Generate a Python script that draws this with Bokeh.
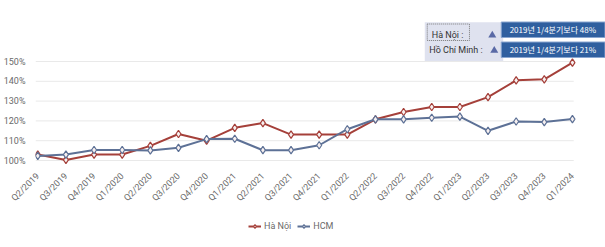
import math
from bokeh.plotting import figure
from bokeh.layouts import column
from bokeh.models import (Range1d, FixedTicker, Legend, LegendItem)
from bokeh.embed import file_html
from bokeh.resources import INLINE

quarters = ["Q2/2019", "Q3/2019", "Q4/2019", "Q1/2020", "Q2/2020", "Q3/2020", "Q4/2020",
            "Q1/2021", "Q2/2021", "Q3/2021", "Q4/2021", "Q1/2022", "Q2/2022", "Q3/2022",
            "Q4/2022", "Q1/2023", "Q2/2023", "Q3/2023", "Q4/2023", "Q1/2024"]
hanoi = [103.0, 100.3, 103.0, 103.0, 107.4, 113.4, 110.0, 116.5, 118.9, 113.1, 113.1, 113.1,
         120.8, 124.5, 127.0, 127.0, 132.0, 140.5, 141.0, 149.4]
hcm = [102.3, 103.0, 105.3, 105.3, 105.1, 106.4, 110.8, 111.0, 105.2, 105.2, 107.7, 115.8,
       120.8, 120.8, 121.6, 122.2, 115.0, 119.7, 119.4, 120.9]
y_ticks = [100, 110, 120, 130, 140, 150]
series_names = ["Hà Nội", "HCM"]
note_labels = ["Hà Nội :", "Hồ Chí Minh :"]
note_texts = ["2019년 1/4분기보다 48%", "2019년 1/4분기보다 21%"]

W, H = 605, 247
H_MAIN = 210
# frame in pixels
FL, FR, FT, FB = 31, 605, 0, 166
# pixel positions of first/last quarter and of 100% / 150%
PX_FIRST, PX_LAST = 33.3, 571.7
PY_100, PY_150 = 160.0, 61.0
sx = (PX_LAST - PX_FIRST) / (len(quarters) - 1)
sy = (PY_100 - PY_150) / 50.0
X0 = -(PX_FIRST - FL) / sx
X1 = (len(quarters) - 1) + (FR - PX_LAST) / sx
Y0 = 100 - (FB - PY_100) / sy
Y1 = 150 + (PY_150 - FT) / sy

def px(v):
    return X0 + (v - FL) / (FR - FL) * (X1 - X0)

def py(v):
    return Y1 - (v - FT) / (FB - FT) * (Y1 - Y0)

p = figure(width=W, height=H_MAIN, output_backend="svg", toolbar_location=None,
           x_range=Range1d(X0, X1), y_range=Range1d(Y0, Y1),
           min_border_left=FL, min_border_right=0, min_border_top=0,
           min_border_bottom=H_MAIN - FB)
p.outline_line_color = None
p.background_fill_color = "white"
p.border_fill_color = "white"

xs = list(range(len(quarters)))
p.xaxis.ticker = FixedTicker(ticks=xs)
p.xaxis.major_label_overrides = {i: q for i, q in enumerate(quarters)}
p.xaxis.major_label_orientation = math.pi / 4
p.yaxis.ticker = FixedTicker(ticks=y_ticks)
p.yaxis.major_label_overrides = {t: f"{t}%" for t in y_ticks}
for ax in (p.xaxis, p.yaxis):
    ax.axis_line_color = None
    ax.major_tick_line_color = None
    ax.minor_tick_line_color = None
    ax.major_label_text_font = "Roboto"
    ax.major_label_text_font_size = "9px"
    ax.major_label_text_color = "#6a6a6a"
p.xaxis.major_label_standoff = 2
p.yaxis.major_label_standoff = 4
p.xgrid.grid_line_color = None
p.ygrid.grid_line_color = None

# horizontal gridlines, limited to the plotted span
p.segment(x0=[px(31)] * len(y_ticks), x1=[px(573)] * len(y_ticks), y0=y_ticks, y1=y_ticks,
          line_color="#e9e9e9", line_width=1)

colors = ["#a5403a", "#5d7196"]
line_kw = dict(line_width=2)
mark_kw = dict(marker="diamond", size=7.5, fill_color="#f7f0f0", line_width=1.2)
for vals, c in zip([hanoi, hcm], colors):
    p.line(xs, vals, line_color=c, **line_kw)
    p.scatter(xs, vals, line_color=c, **mark_kw)

# note overlay (drawn as glyphs inside the frame)
p.quad(left=[px(423)], right=[px(502)], top=[py(21.7)], bottom=[py(60.5)],
       fill_color="#dfe2ef", line_color=None)
p.quad(left=[px(425.5)], right=[px(468)], top=[py(23.5)], bottom=[py(40)],
       fill_alpha=0, line_color="#777777", line_dash="1 1", line_width=1)
box_tops = [21.5, 41.5]
p.quad(left=[px(500)] * 2, right=[px(604.5)] * 2, top=[py(t) for t in box_tops],
       bottom=[py(t + 15.5) for t in box_tops], fill_color="#2f5f9f",
       line_color="#8aa6d0", line_width=1)
p.text(x=[px(552)] * 2, y=[py(t + 7.8) for t in box_tops], text=note_texts,
       text_align="center", text_baseline="middle",
       text_font={"value": "Noto Sans CJK KR"}, text_font_size="8px", text_color="white")
label_y = [34.3, 49.5]
p.text(x=[px(430), px(427.5)], y=[py(v) for v in label_y], text=note_labels,
       text_align="left", text_baseline="middle",
       text_font={"value": "Roboto"}, text_font_size="9px", text_color="#333333")
p.scatter(x=[px(491), px(493)], y=[py(v + 0.5) for v in label_y], marker="triangle",
          size=8, fill_color="#5a6aa6", line_color=None)

# legend strip below the chart (same series, drawn off-view so only the legend shows)
H_LEG = H - H_MAIN
q = figure(width=W, height=H_LEG, output_backend="svg", toolbar_location=None,
           x_axis_location=None, y_axis_location=None,
           x_range=Range1d(X0, X1), y_range=Range1d(1000, 1001),
           min_border_left=0, min_border_right=0, min_border_top=0, min_border_bottom=0)
q.outline_line_color = None
q.xgrid.grid_line_color = None
q.ygrid.grid_line_color = None
items = []
for name, vals, c in zip(series_names, [hanoi, hcm], colors):
    lr = q.line(xs, vals, line_color=c, **line_kw)
    sr = q.scatter(xs, vals, line_color=c, **mark_kw)
    items.append(LegendItem(label=name, renderers=[lr, sr]))
legend = Legend(items=items, orientation="horizontal", location=(213, 16),
                label_text_font="Roboto", label_text_font_size="9px",
                label_text_color="#6a6a6a", glyph_width=13, glyph_height=10,
                label_standoff=3, spacing=6, padding=0, margin=0,
                background_fill_alpha=0, border_line_color=None,
                label_height=10)
q.add_layout(legend, "center")

open("out.html", "w").write(file_html(column(p, q, spacing=0), INLINE))
